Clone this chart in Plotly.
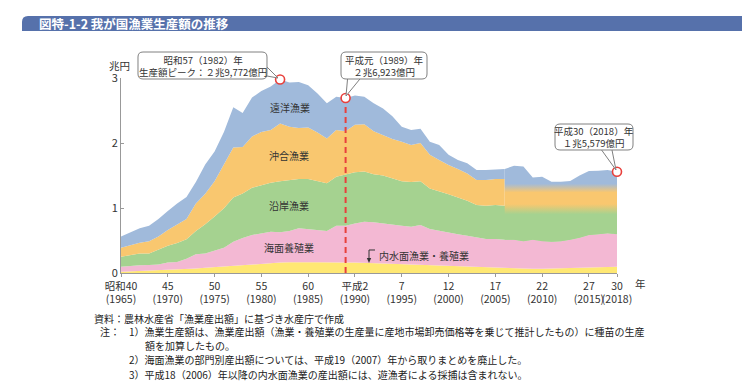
import plotly.graph_objects as go

# ---------------- data (兆円) ----------------
years = list(range(1965, 2019))
inland = [0.02, 0.025, 0.03, 0.035, 0.04, 0.045, 0.05, 0.06, 0.07, 0.08,
          0.09, 0.10, 0.115, 0.125, 0.14, 0.15, 0.155, 0.16, 0.165, 0.17,
          0.165, 0.165, 0.16, 0.16, 0.16, 0.16, 0.155, 0.15, 0.14, 0.135,
          0.13, 0.125, 0.12, 0.115, 0.11, 0.105, 0.10, 0.095, 0.09, 0.085,
          0.08, 0.075, 0.07, 0.068, 0.065, 0.067, 0.07, 0.072, 0.075, 0.08,
          0.085, 0.09, 0.095, 0.095]
aquaculture = [0.077, 0.085, 0.09, 0.088, 0.09, 0.115, 0.12, 0.16, 0.22, 0.22,
               0.25, 0.29, 0.365, 0.415, 0.445, 0.46, 0.48, 0.466, 0.481, 0.517,
               0.512, 0.495, 0.486, 0.568, 0.568, 0.60, 0.635, 0.63, 0.62, 0.615,
               0.598, 0.588, 0.62, 0.562, 0.536, 0.521, 0.495, 0.479, 0.454, 0.438,
               0.443, 0.435, 0.44, 0.422, 0.445, 0.423, 0.41, 0.418, 0.435, 0.464,
               0.50, 0.505, 0.515, 0.50]
sector_years = list(range(1965, 2007))
coastal = [0.153, 0.167, 0.18, 0.177, 0.224, 0.26, 0.29, 0.30, 0.355, 0.45,
           0.53, 0.605, 0.68, 0.685, 0.725, 0.74, 0.755, 0.784, 0.784, 0.758,
           0.768, 0.75, 0.734, 0.752, 0.782, 0.79, 0.77, 0.74, 0.74, 0.71,
           0.682, 0.687, 0.67, 0.623, 0.614, 0.584, 0.565, 0.536, 0.502, 0.513,
           0.523, 0.526]
offshore = [0.14, 0.153, 0.167, 0.19, 0.206, 0.24, 0.28, 0.31, 0.425, 0.47,
            0.54, 0.665, 0.77, 0.715, 0.79, 0.82, 0.81, 0.89, 0.82, 0.785,
            0.795, 0.75, 0.69, 0.72, 0.67, 0.73, 0.73, 0.66, 0.62, 0.60,
            0.61, 0.57, 0.59, 0.52, 0.48, 0.45, 0.44, 0.42, 0.384, 0.394,
            0.399, 0.409]
distant = [0.17, 0.196, 0.22, 0.238, 0.27, 0.294, 0.33, 0.34, 0.33, 0.45,
           0.46, 0.51, 0.62, 0.52, 0.60, 0.63, 0.67, 0.677, 0.68, 0.71,
           0.65, 0.60, 0.54, 0.51, 0.512, 0.45, 0.42, 0.43, 0.41, 0.35,
           0.23, 0.23, 0.22, 0.20, 0.23, 0.16, 0.14, 0.16, 0.155, 0.155,
           0.15, 0.155]
marine_years = list(range(2007, 2019))
marine_total = [1.14, 1.15, 0.96, 0.99, 0.925, 0.915, 0.905, 0.956, 0.985,
                0.98, 0.975, 0.963]

tick_years = [1965, 1970, 1975, 1980, 1985, 1990, 1995, 2000, 2005, 2010, 2015, 2018]
tick_era = ["昭和40", "45", "50", "55", "60", "平成2", "7", "12", "17", "22", "27", "30"]

callout_years = [1982, 1989, 2018]
callout_text = ["昭和57（1982）年<br>生産額ピーク：２兆9,772億円",
                "平成元（1989）年<br>２兆6,923億円",
                "平成30（2018）年<br>１兆5,579億円"]

# ---------------- colours ----------------
C_Y = "#FFE873"
C_P = "#F3B8D3"
C_G = "#A5D290"
C_O = "#F9C76F"
C_B = "#A0BADB"
RED = "#E8403C"
FONT = "Noto Sans CJK JP"

# ---------------- cumulative ----------------
n_sec = len(sector_years)
c1 = list(inland)
c2 = [a + b for a, b in zip(c1, aquaculture)]
c3 = [c2[i] + coastal[i] for i in range(n_sec)]
c4 = [c3[i] + offshore[i] for i in range(n_sec)]
c5 = [c4[i] + distant[i] for i in range(n_sec)]

grad_x = [sector_years[-1]] + marine_years
grad_bottom = c2[n_sec - 1:]
grad_sea = [coastal[-1] + offshore[-1] + distant[-1]] + marine_total
grad_top = [a + b for a, b in zip(grad_bottom, grad_sea)]

total_by_year = {}
for i, y in enumerate(sector_years):
    total_by_year[y] = c5[i]
for i, y in enumerate(grad_x):
    total_by_year[y] = grad_top[i]

fig = go.Figure()


def area(x, y, color, fill):
    fig.add_trace(go.Scatter(x=x, y=y, mode="lines", line=dict(width=0, color=color),
                             fill=fill, fillcolor=color, hoverinfo="skip", showlegend=False))


area(years, c1, C_Y, "tozeroy")
area(years, c2, C_P, "tonexty")
area(sector_years, c3, C_G, "tonexty")
area(sector_years, c4, C_O, "tonexty")
area(sector_years, c5, C_B, "tonexty")

# helper baseline for gradient area (2006 onwards)
fig.add_trace(go.Scatter(x=grad_x, y=grad_bottom, mode="lines", line=dict(width=0),
                         hoverinfo="skip", showlegend=False))
fig.add_trace(go.Scatter(
    x=grad_x, y=grad_top, mode="lines", line=dict(width=0, color=C_B),
    fill="tonexty",
    fillgradient=dict(type="vertical", start=0.5, stop=1.62,
                      colorscale=[[0, C_G], [0.36, C_G], [0.50, C_O], [0.66, C_O],
                                  [0.78, C_B], [1, C_B]]),
    hoverinfo="skip", showlegend=False))

# dashed line 1989
fig.add_trace(go.Scatter(x=[1989, 1989], y=[0, total_by_year[1989]], mode="lines",
                         line=dict(color=RED, width=2, dash="6px,4px"),
                         hoverinfo="skip", showlegend=False, cliponaxis=False))

# circles
fig.add_trace(go.Scatter(x=callout_years, y=[total_by_year[y] for y in callout_years],
                         mode="markers", cliponaxis=False,
                         marker=dict(size=9, color="white", line=dict(color=RED, width=1.6)),
                         hoverinfo="skip", showlegend=False))

# ---------------- pixel helpers (reference-picture pixels) ----------------
OFF = 8                      # page body margin
L, R, T, B = 121, 617, 78, 273
W, H = R - L, B - T
FIG_W, FIG_H = 750 - OFF, 390 - OFF


def X(px):
    return (px - L) / W


def Y(py):
    return (B - py) / H


def path(points, close=True):
    s = "M " + " L ".join(f"{X(a):.5f},{Y(b):.5f}" for a, b in points)
    return s + (" Z" if close else "")


def rrect(x0, y0, x1, y1, r):
    p = lambda a, b: f"{X(a):.5f},{Y(b):.5f}"
    return (f"M {p(x0 + r, y0)} L {p(x1 - r, y0)} Q {p(x1, y0)} {p(x1, y0 + r)} "
            f"L {p(x1, y1 - r)} Q {p(x1, y1)} {p(x1 - r, y1)} L {p(x0 + r, y1)} "
            f"Q {p(x0, y1)} {p(x0, y1 - r)} L {p(x0, y0 + r)} Q {p(x0, y0)} {p(x0 + r, y0)} Z")


shapes = []
# title bar
tb = f"M {X(22):.5f},{Y(31):.5f} L {X(22):.5f},{Y(22):.5f} Q {X(22):.5f},{Y(16):.5f} {X(28):.5f},{Y(16):.5f} L {X(760):.5f},{Y(16):.5f} L {X(760):.5f},{Y(31):.5f} Z"
shapes.append(dict(type="path", path=tb, xref="paper", yref="paper",
                   fillcolor="#5671AB", line=dict(width=0), layer="above"))

boxes = [((138, 52, 267, 79), [(256, 74), (278, 78), (264, 64)]),
         ((341, 52, 427, 79), [(348, 74), (346, 96), (364, 74)]),
         ((555, 124, 633, 150), [(598, 145), (616, 170), (611, 145)])]
for (x0, y0, x1, y1), tail in boxes:
    shapes.append(dict(type="path", path=path(tail), xref="paper", yref="paper",
                       fillcolor="white", line=dict(color="#808080", width=1), layer="above"))
    shapes.append(dict(type="path", path=rrect(x0, y0, x1, y1, 5), xref="paper", yref="paper",
                       fillcolor="white", line=dict(color="#808080", width=1), layer="above"))

# inland label arrow
shapes.append(dict(type="path", path=path([(375, 250), (369, 250), (369, 259)], close=False),
                   xref="paper", yref="paper", line=dict(color="#333", width=1), layer="above"))
shapes.append(dict(type="path", path=path([(366.8, 258), (371.2, 258), (369, 263)]),
                   xref="paper", yref="paper", fillcolor="#333", line=dict(width=0), layer="above"))

annotations = []


def text(px, py, s, size=10, color="#333", xanchor="center"):
    annotations.append(dict(x=X(px), y=Y(py), xref="paper", yref="paper", text=s,
                            showarrow=False, xanchor=xanchor, yanchor="middle",
                            font=dict(family=FONT, size=size, color=color), align="center"))


text(37, 23.5, "<b>図特-1-2 我が国漁業生産額の推移</b>", size=12.5, color="white", xanchor="left")

text(202.5, 65.5, callout_text[0], size=9.5)
text(384, 65.5, callout_text[1], size=9.5)
text(594, 137, callout_text[2], size=9.5)

text(290, 107, "遠洋漁業", size=10)
text(289, 155, "沖合漁業", size=10)
text(289, 205, "沿岸漁業", size=10)
text(289, 247, "海面養殖業", size=10)
text(377, 255, "内水面漁業・養殖業", size=10, xanchor="left")

text(119, 65.5, "兆円", size=10.5)
text(640, 283, "年", size=10.5)

notes = [
    (92, 318, "資料：農林水産省「漁業産出額」に基づき水産庁で作成"),
    (98, 331.5, "注："),
    (127, 331.5, "1）漁業生産額は、漁業産出額（漁業・養殖業の生産量に産地市場卸売価格等を乗じて推計したもの）に種苗の生産"),
    (143, 345.5, "額を加算したもの。"),
    (127, 359.5, "2）海面漁業の部門別産出額については、平成19（2007）年から取りまとめを廃止した。"),
    (127, 374, "3）平成18（2006）年以降の内水面漁業の産出額には、遊漁者による採捕は含まれない。"),
]
for px, py, s in notes:
    text(px, py, s, size=10, color="#222", xanchor="left")

fig.update_layout(
    width=FIG_W, height=FIG_H,
    margin=dict(l=L - OFF, r=FIG_W - (R - OFF), t=T - OFF, b=FIG_H - (B - OFF), autoexpand=False),
    paper_bgcolor="white", plot_bgcolor="white",
    showlegend=False,
    font=dict(family=FONT, size=10.5, color="#333"),
    shapes=shapes, annotations=annotations,
    xaxis=dict(range=[1965, 2018], tickvals=tick_years,
               ticktext=[f"{e}<br>({y})" for e, y in zip(tick_era, tick_years)],
               tickangle=0, automargin=False,
               showgrid=False, zeroline=False, showline=True, linecolor="#999",
               ticks="outside", ticklen=3, tickcolor="#999",
               tickfont=dict(family=FONT, size=10.5, color="#333")),
    yaxis=dict(range=[0, 3], tickvals=[0, 1, 2, 3], ticktext=["0", "1", "2", "3"],
               automargin=False,
               showgrid=False, zeroline=False, showline=True, linecolor="#999",
               ticks="inside", ticklen=3, tickcolor="#999",
               tickfont=dict(family=FONT, size=11, color="#333")),
)

fig.write_html("out.html")
